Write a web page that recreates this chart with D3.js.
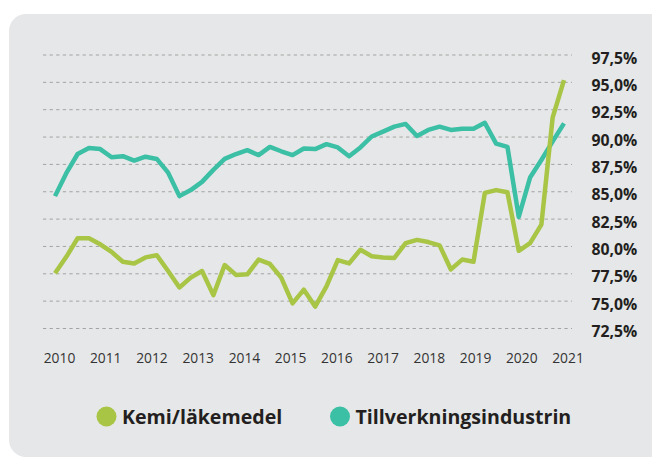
<!DOCTYPE html>
<html>
<head>
<meta charset="utf-8">
<script src="https://cdn.jsdelivr.net/npm/d3@7"></script>
<style>
  body { margin: 0; background: #fff; }
  svg { display: block; }
</style>
</head>
<body>
<svg id="chart" width="652" height="457"></svg>
<script>
// DATA (quarterly, 2010 Q1 - 2021 Q2)
const kemi = [
  77.55, 79.05, 80.75, 80.75, 80.2, 79.5, 78.6, 78.45, 79.0, 79.2,
  77.75, 76.25, 77.15, 77.75, 75.55, 78.3, 77.4, 77.45, 78.8, 78.4,
  77.15, 74.8, 76.05, 74.5, 76.35, 78.75, 78.45, 79.7, 79.1, 79.0,
  78.95, 80.3, 80.6, 80.4, 80.1, 77.9, 78.8, 78.6, 84.9, 85.15,
  84.95, 79.6, 80.3, 82.0, 91.8, 95.2,
];
const tillverkning = [
  84.6, 86.7, 88.45, 89.0, 88.9, 88.15, 88.25, 87.85, 88.2, 88.0,
  86.75, 84.6, 85.15, 85.9, 87.0, 88.0, 88.45, 88.8, 88.35, 89.1,
  88.7, 88.35, 88.95, 88.9, 89.35, 89.05, 88.25, 89.05, 90.05, 90.5,
  90.95, 91.2, 90.1, 90.65, 90.95, 90.65, 90.75, 90.75, 91.3, 89.4,
  89.1, 82.7, 86.3, 87.9, 89.6, 91.25,
];
const years = ["2010", "2011", "2012", "2013", "2014", "2015",
  "2016", "2017", "2018", "2019", "2020", "2021"];
const yTicks = [72.5, 75, 77.5, 80, 82.5, 85, 87.5, 90, 92.5, 95, 97.5];
const series = [
  { name: "Kemi/läkemedel", values: kemi, color: "#a8c545" },
  { name: "Tillverkningsindustrin", values: tillverkning, color: "#3bbfa5" },
];

// CANVAS SETUP
const svg = d3.select("#chart");

svg.append("rect")
  .attr("x", 9)
  .attr("y", 14)
  .attr("width", 660)
  .attr("height", 443)
  .attr("rx", 17)
  .attr("fill", "#e6e7e8");

const x = d3.scaleLinear().domain([0, kemi.length - 1]).range([55, 564]);
const xLab = d3.scalePoint().domain(years).range([59.5, 568]);
const y = d3.scaleLinear().domain([72.5, 97.5]).range([328.5, 55]);

// gridlines + y labels
const gy = svg.append("g");
gy.selectAll("line")
  .data(yTicks)
  .join("line")
  .attr("x1", 43)
  .attr("x2", 572)
  .attr("y1", (d) => y(d))
  .attr("y2", (d) => y(d))
  .attr("stroke", "#a3a3a3")
  .attr("stroke-width", 1)
  .attr("stroke-dasharray", "3.3,3.3");

const fmt = (d) => d3.format(".1f")(d).replace(".", ",") + "%";

gy.selectAll("text")
  .data(yTicks)
  .join("text")
  .attr("x", 591.5)
  .attr("y", (d) => y(d) + 8.5)
  .attr("font-family", "'Open Sans', sans-serif")
  .attr("font-weight", "bold")
  .attr("font-size", "15.8px")
  .attr("fill", "#231f20")
  .text(fmt);

// x labels
svg.append("g")
  .selectAll("text")
  .data(years)
  .join("text")
  .attr("x", (d) => xLab(d))
  .attr("y", 362.5)
  .attr("text-anchor", "middle")
  .attr("font-family", "'Open Sans', sans-serif")
  .attr("font-size", "13.8px")
  .attr("fill", "#333")
  .text((d) => d);

// lines
const line = d3.line()
  .x((d, i) => x(i))
  .y((d) => y(d));

svg.append("g")
  .selectAll("path")
  .data(series.slice().reverse())
  .join("path")
  .attr("d", (d) => line(d.values))
  .attr("fill", "none")
  .attr("stroke", (d) => d.color)
  .attr("stroke-width", 4.5)
  .attr("stroke-linejoin", "round")
  .attr("stroke-linecap", "butt");

// legend
const legendX = [106.5, 340];
const lg = svg.append("g")
  .selectAll("g")
  .data(series)
  .join("g")
  .attr("transform", (d, i) => `translate(${legendX[i]},416.5)`);

lg.append("circle")
  .attr("r", 10)
  .attr("fill", (d) => d.color);

lg.append("text")
  .attr("x", 15.5)
  .attr("y", 7.8)
  .attr("font-family", "'Open Sans', sans-serif")
  .attr("font-weight", "bold")
  .attr("font-size", "19.6px")
  .attr("fill", "#231f20")
  .text((d) => d.name);
</script>
</body>
</html>
